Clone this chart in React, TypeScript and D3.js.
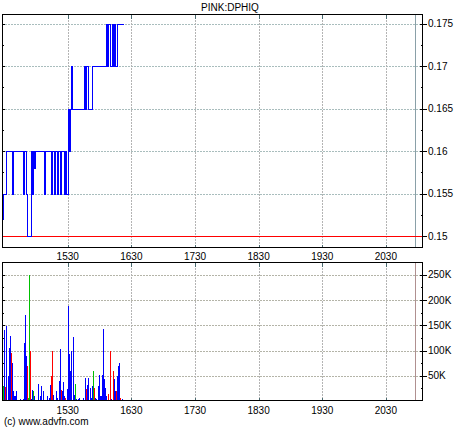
import React from "react";
import * as d3 from "d3";

const title = "PINK:DPHIQ";
const credit = "(c) www.advfn.com";

// x axis (intraday time)
const xDomainStart = "14:28";
const xDomainEnd = "21:05";
const xTickLabels = ["15:30", "16:30", "17:30", "18:30", "19:30", "20:30"];
const marketCloseMarker = "20:57";

// price axis
const priceTicks = [0.15, 0.155, 0.16, 0.165, 0.17, 0.175];
const priceTickLabels = ["0.15", "0.155", "0.16", "0.165", "0.17", "0.175"];
const priceDomain = [0.14863, 0.17612];
const referencePrice = 0.15;

// volume axis
const volTicks = [50000, 100000, 150000, 200000, 250000];
const volTickLabels = ["50K", "100K", "150K", "200K", "250K"];
const volDomain = [0, 275500];

// price series (change points)
const priceTimes = [
  "14:28", "14:29", "14:32", "14:37", "14:38", "14:48", "14:49", "14:51", "14:52", "14:55",
  "14:56", "14:57", "14:58", "14:59", "15:08", "15:09", "15:14", "15:15", "15:17", "15:18",
  "15:20", "15:21", "15:23", "15:24", "15:26", "15:27", "15:28", "15:30", "15:31", "15:32",
  "15:33", "15:34", "15:45", "15:46", "15:47", "15:49", "15:53", "16:06", "16:07", "16:08",
  "16:10", "16:12", "16:13", "16:14", "16:15", "16:16", "16:22",
];
const priceValues = [
  0.152, 0.155, 0.16, 0.155, 0.16, 0.155, 0.16, 0.155, 0.15, 0.16,
  0.155, 0.16, 0.158, 0.16, 0.155, 0.16, 0.155, 0.16, 0.155, 0.16,
  0.155, 0.16, 0.155, 0.16, 0.155, 0.16, 0.155, 0.165, 0.16, 0.165,
  0.17, 0.165, 0.17, 0.165, 0.17, 0.165, 0.17, 0.175, 0.17, 0.175,
  0.17, 0.175, 0.17, 0.175, 0.17, 0.175, 0.175,
];

// volume series
const volTimes = [
  "14:29", "14:30", "14:31", "14:32", "14:34", "14:35", "14:36", "14:37", "14:38", "14:39",
  "14:40", "14:41", "14:42", "14:45", "14:48", "14:49", "14:50", "14:51", "14:52", "14:53",
  "14:54", "14:55", "14:56", "14:57", "14:58", "14:59", "15:02", "15:04", "15:05", "15:07",
  "15:11", "15:13", "15:14", "15:15", "15:16", "15:17", "15:19", "15:20", "15:22", "15:23",
  "15:24", "15:25", "15:26", "15:27", "15:28", "15:30", "15:31", "15:32", "15:33", "15:34",
  "15:35", "15:36", "15:37", "15:38", "15:40", "15:41", "15:43", "15:45", "15:47", "15:48",
  "15:49", "15:50", "15:51", "15:52", "15:53", "15:54", "15:55", "15:56", "15:57", "15:59",
  "16:00", "16:01", "16:02", "16:03", "16:04", "16:05", "16:06", "16:07", "16:08", "16:10",
  "16:11", "16:13", "16:14", "16:15", "16:16", "16:17", "16:18", "16:19", "16:20", "16:22",
];
const volValues = [
  30000, 141000, 28000, 149000, 50000, 105000, 129000, 96000, 76000, 20000,
  10000, 10000, 20000, 3000, 3000, 114000, 170000, 90000, 69000, 5000,
  250000, 100000, 3000, 22000, 19000, 10000, 34000, 10000, 30000, 20000,
  10000, 6000, 32000, 49000, 100000, 12000, 20000, 5000, 40000, 103000,
  21000, 20000, 38000, 10000, 5000, 23000, 188000, 93000, 60000, 100000,
  127000, 11000, 33000, 3000, 4000, 5000, 2000, 5000, 46000, 23000,
  32000, 45000, 26000, 6000, 30000, 60000, 26000, 6000, 4000, 30000,
  51000, 10000, 10000, 51000, 142000, 44000, 26000, 10000, 13000, 100000,
  4000, 60000, 44000, 19000, 19000, 50000, 69000, 76000, 5000, 3000,
];
// B = neutral (blue), R = down (red), G = up (green)
const volDirections = [
  "G", "B", "R", "B", "B", "B", "B", "R", "B", "B",
  "B", "B", "B", "B", "B", "B", "B", "B", "R", "G",
  "G", "R", "B", "B", "G", "B", "B", "B", "B", "B",
  "B", "B", "B", "R", "R", "B", "B", "B", "B", "B",
  "R", "B", "B", "B", "R", "B", "B", "B", "B", "B",
  "B", "B", "G", "B", "B", "B", "B", "B", "B", "R",
  "B", "B", "B", "B", "B", "G", "R", "B", "B", "B",
  "B", "B", "B", "B", "B", "B", "B", "B", "R", "R",
  "B", "R", "B", "B", "R", "B", "B", "B", "R", "B",
];

const dirColor: Record<string, string> = { B: "#0000ff", R: "#ff0000", G: "#00c000" };

const toMin = (s: string) => {
  const [h, m] = s.split(":").map(Number);
  return h * 60 + m;
};
const fmtTick = (s: string) => s.replace(":", "");

const W = 460;
const H = 430;
const L = 2;
const R = 423;
const pTop = 14;
const pBot = 248;
const vTop = 262;
const vBot = 401;
const FONT = "'Liberation Sans', Arial, Helvetica, sans-serif";
const GRID = "#b4b4b4";

export default function App() {
  const x = d3.scaleLinear().domain([toMin(xDomainStart), toMin(xDomainEnd)]).range([L, R]);
  const yP = d3.scaleLinear().domain(priceDomain).range([pBot, pTop]);
  const yV = d3.scaleLinear().domain(volDomain).range([vBot, vTop]);
  const crisp = (v: number) => Math.round(v) + 0.5;

  const pricePts = priceTimes.map((t, i) => [toMin(t), priceValues[i]] as [number, number]);
  const line = d3
    .line<[number, number]>()
    .x((d) => crisp(x(d[0])))
    .y((d) => crisp(yP(d[1])))
    .curve(d3.curveStepAfter);

  const priceMinor = d3.range(priceTicks.length - 1).map((i) => (priceTicks[i] + priceTicks[i + 1]) / 2);
  const volMinor = [25000, ...d3.range(volTicks.length - 1).map((i) => (volTicks[i] + volTicks[i + 1]) / 2)];

  const xTicks = xTickLabels.map(toMin);
  const markerX = crisp(x(toMin(marketCloseMarker)));

  const panel = (top: number, bot: number, yScale: any, ticks: number[], minor: number[], labels: string[], hColor: string, markColor: string) => (
    <g>
      {ticks.map((t) => (
        <line key={"h" + t} x1={L} x2={R} y1={crisp(yScale(t))} y2={crisp(yScale(t))} stroke={hColor} strokeDasharray="2,1" />
      ))}
      {xTicks.map((t) => (
        <line key={"v" + t} x1={crisp(x(t))} x2={crisp(x(t))} y1={top} y2={bot} stroke={GRID} strokeDasharray="2,1" />
      ))}
      <line x1={markerX} x2={markerX} y1={top} y2={bot} stroke={markColor} />
      {xTicks.map((t) => (
        <g key={"xt" + t}>
          <line x1={crisp(x(t))} x2={crisp(x(t))} y1={top} y2={top + 5} stroke="#4a6a70" />
          <line x1={crisp(x(t))} x2={crisp(x(t))} y1={bot - 3} y2={bot} stroke="#4a6a70" />
        </g>
      ))}
      {ticks.map((t, i) => (
        <g key={"yt" + t}>
          <line x1={L} x2={L + 3} y1={crisp(yScale(t))} y2={crisp(yScale(t))} stroke="#000" />
          <line x1={R - 3} x2={R + 4} y1={crisp(yScale(t))} y2={crisp(yScale(t))} stroke="#000" />
          <text x={R + 5} y={yScale(t)} dy="0.35em" fontSize={10} fontFamily={FONT} fill="#000">
            {labels[i]}
          </text>
        </g>
      ))}
      {minor.map((t) => (
        <g key={"ym" + t}>
          <line x1={L} x2={L + 2} y1={crisp(yScale(t))} y2={crisp(yScale(t))} stroke="#000" />
          <line x1={R - 2} x2={R} y1={crisp(yScale(t))} y2={crisp(yScale(t))} stroke="#000" />
        </g>
      ))}
    </g>
  );

  return (
    <svg width={W} height={H} style={{ position: "absolute", left: 0, top: 0, background: "#fff" }} shapeRendering="crispEdges">
      <rect x={0} y={0} width={W} height={H} fill="#fff" />
      <text x={230} y={11} textAnchor="middle" fontSize={10} fontFamily={FONT} fill="#000">
        {title}
      </text>

      {/* price panel */}
      {panel(pTop, pBot, yP, priceTicks, priceMinor, priceTickLabels, "#a9bdbd", "#8aa0a8")}
      <line x1={L} x2={R} y1={crisp(yP(referencePrice))} y2={crisp(yP(referencePrice))} stroke="#ff0000" />
      <path d={line(pricePts) || ""} fill="none" stroke="#0000ff" strokeWidth={1} />
      <rect x={L + 0.5} y={pTop + 0.5} width={R - L - 1} height={pBot - pTop - 1} fill="none" stroke="#000" />
      {xTicks.map((t, i) => (
        <text key={"xl" + t} x={x(t)} y={260} textAnchor="middle" fontSize={10} fontFamily={FONT} fill="#000">
          {fmtTick(xTickLabels[i])}
        </text>
      ))}

      {/* volume panel */}
      {panel(vTop, vBot, yV, volTicks, volMinor, volTickLabels, "#b4b4a8", "#b09090")}
      {volTimes.map((t, i) => {
        const xx = Math.floor(x(toMin(t)));
        const y0 = yV(volValues[i]);
        return (
          <rect key={"b" + i} x={xx} y={Math.round(y0)} width={1} height={Math.max(1, vBot - Math.round(y0))} fill={dirColor[volDirections[i]]} />
        );
      })}
      <rect x={L + 0.5} y={vTop + 0.5} width={R - L - 1} height={vBot - vTop - 1} fill="none" stroke="#000" />
      {xTicks.map((t, i) => (
        <text key={"xb" + t} x={x(t)} y={413.5} textAnchor="middle" fontSize={10} fontFamily={FONT} fill="#000">
          {fmtTick(xTickLabels[i])}
        </text>
      ))}
      <text x={4} y={424.5} fontSize={10} fontFamily={FONT} fill="#000">
        {credit}
      </text>
    </svg>
  );
}
